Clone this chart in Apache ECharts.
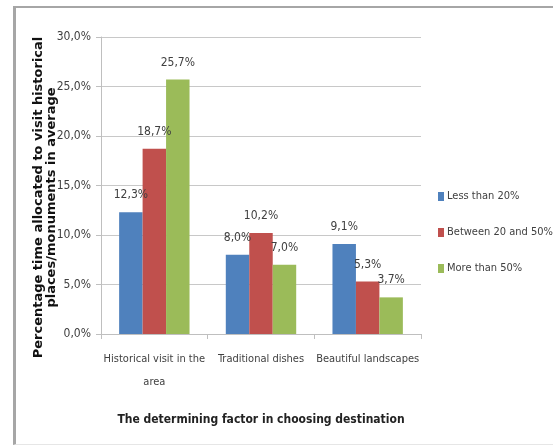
<!DOCTYPE html>
<html>
<head>
<meta charset="utf-8">
<script src="https://cdn.jsdelivr.net/npm/echarts@6/dist/echarts.min.js"></script>
<style>
  html, body { margin: 0; padding: 0; background: #fff; }
  .wrap { position: relative; width: 553px; height: 446px; }
  #chart { width: 553px; height: 446px; }
  .frame {
    position: absolute; left: 13px; top: 6px; right: 0; bottom: 1px;
    border-left: 3px solid #a6a6a6; border-top: 2px solid #a6a6a6;
    border-bottom: 1px solid #e6e6e6;
    pointer-events: none;
  }
</style>
</head>
<body>
<div class="wrap">
  <div id="chart"></div>
  <div class="frame"></div>
</div>
<script>
// data
var categories = ['Historical visit in the\narea', 'Traditional dishes', 'Beautiful landscapes'];
var lessThan20 = [12.3, 8.0, 9.1];
var between20and50 = [18.7, 10.2, 5.3];
var moreThan50 = [25.7, 7.0, 3.7];
var seriesNames = ['Less than 20%', 'Between 20 and 50%', 'More than 50%'];

var font = "'DejaVu Sans Condensed', 'Liberation Sans', sans-serif";
var pct = function (v) { return v.toFixed(1).replace('.', ',') + '%'; };

var chart = echarts.init(document.getElementById('chart'));

function bar(name, data, color) {
  return {
    name: name,
    type: 'bar',
    data: data,
    barGap: 0,
    barCategoryGap: '34%',
    itemStyle: { color: color },
    label: {
      show: true,
      position: 'top',
      distance: 11,
      fontFamily: font,
      fontSize: 12,
      color: '#404040',
      formatter: function (p) { return pct(p.value); }
    }
  };
}

chart.setOption({
  animation: false,
  grid: { left: 101, right: 132, top: 37, bottom: 112 },
  legend: {
    orient: 'vertical',
    left: 433,
    top: 186,
    itemWidth: 6,
    itemHeight: 9,
    itemGap: 25,
    icon: 'rect',
    textStyle: { fontFamily: font, fontSize: 11, color: '#404040', padding: [0, 0, 0, -2] },
    data: seriesNames
  },
  xAxis: {
    type: 'category',
    data: categories,
    name: 'The determining factor in choosing destination',
    nameLocation: 'middle',
    nameGap: 80,
    nameTextStyle: { fontFamily: font, fontSize: 12, fontWeight: 'bold', color: '#222' },
    axisLine: { lineStyle: { color: '#bfbfbf' } },
    axisTick: { show: true, length: 5, lineStyle: { color: '#bfbfbf' } },
    axisLabel: {
      interval: 0,
      fontFamily: font, fontSize: 11, color: '#404040',
      margin: 14, lineHeight: 23
    }
  },
  yAxis: {
    type: 'value',
    min: 0,
    max: 30,
    interval: 5,
    name: 'Percentage time allocated to visit historical\nplaces/monuments in average',
    nameLocation: 'middle',
    nameGap: 43,
    nameMoveOverlap: false,
    nameTextStyle: {
      fontFamily: 'DejaVu Sans', fontSize: 13, fontWeight: 'bold', color: '#111',
      lineHeight: 13, padding: [0, 24, 0, 0]
    },
    axisLine: { show: true, lineStyle: { color: '#bfbfbf' } },
    axisTick: { show: true, length: 5, lineStyle: { color: '#bfbfbf' } },
    axisLabel: {
      fontFamily: font, fontSize: 12, color: '#404040', margin: 10,
      formatter: function (v) { return pct(v); }
    },
    splitLine: { lineStyle: { color: '#c8c8c8' } }
  },
  series: [
    bar(seriesNames[0], lessThan20, '#4f81bd'),
    bar(seriesNames[1], between20and50, '#c0504d'),
    bar(seriesNames[2], moreThan50, '#9bbb59')
  ]
});
</script>
</body>
</html>
